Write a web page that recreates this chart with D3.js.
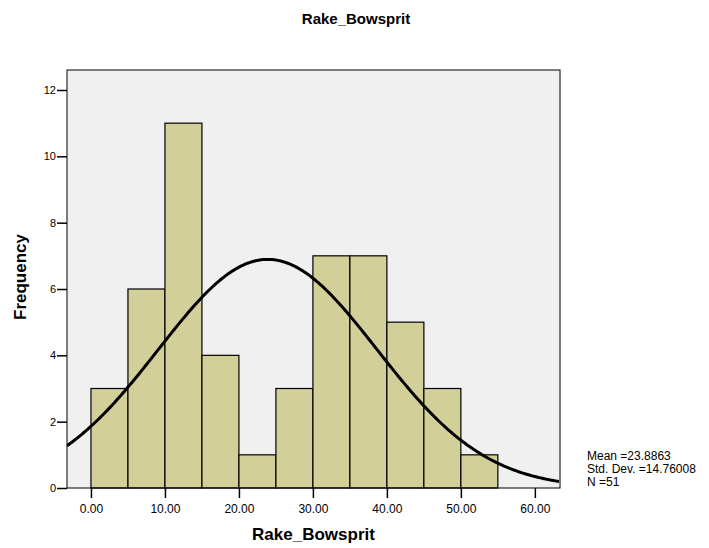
<!DOCTYPE html>
<html><head><meta charset="utf-8">
<script src="https://cdn.jsdelivr.net/npm/d3@7"></script>
<style>body{margin:0;background:#fff}svg{display:block;font-family:"Liberation Sans",Arial,sans-serif}</style>
</head><body>
<svg id="c" width="709" height="548"></svg>
<script>
const binStarts = [0,5,10,15,20,25,30,35,40,45,50];
const binWidth = 5;
const counts = [3,6,11,4,1,3,7,7,5,3,1];
const xTicks = [0,10,20,30,40,50,60];
const yTicks = [0,2,4,6,8,10,12];
const stats = {mean:23.8863, sd:14.76008, n:51};
const legendLines = ["Mean =23.8863","Std. Dev. =14.76008","N =51"];

const svg = d3.select("#c");
const L=67, R=560, T=70, B=488;
const x = d3.scaleLinear().domain([-3.24,63.4]).range([L,R]);
const y = d3.scaleLinear().domain([0,12]).range([B,90]);

svg.append("rect").attr("x",L).attr("y",T).attr("width",R-L).attr("height",B-T).attr("fill","#f0f0f0");

svg.append("g").selectAll("rect").data(binStarts).join("rect")
 .attr("x",d=>x(d)).attr("width",d=>x(d+binWidth)-x(d))
 .attr("y",(d,i)=>y(counts[i])).attr("height",(d,i)=>y(0)-y(counts[i]))
 .attr("fill","#d3cf99").attr("stroke","#000").attr("stroke-width",1.2);

const dens = v => stats.n*binWidth/(stats.sd*Math.sqrt(2*Math.PI))*Math.exp(-0.5*((v-stats.mean)/stats.sd)**2);
const xs = d3.range(x.domain()[0], x.domain()[1]+0.01, 0.25);
svg.append("clipPath").attr("id","cp").append("rect").attr("x",L).attr("y",T).attr("width",R-L).attr("height",B-T);
svg.append("path").datum(xs).attr("clip-path","url(#cp)")
 .attr("d",d3.line().x(d=>x(d)).y(d=>y(dens(d))))
 .attr("fill","none").attr("stroke","#000").attr("stroke-width",3);

svg.append("rect").attr("x",L).attr("y",T).attr("width",R-L).attr("height",B-T).attr("fill","none").attr("stroke","#000").attr("stroke-width",1);

const xa = svg.append("g").attr("transform",`translate(0,${B})`)
 .call(d3.axisBottom(x).tickValues(xTicks).tickFormat(d3.format(".2f")).tickSize(10).tickSizeOuter(0));
xa.select(".domain").remove();
xa.selectAll("line").attr("stroke","#000").attr("stroke-width",1.5);
xa.selectAll("text").attr("font-size",12).attr("fill","#000").attr("y",13).attr("dy","1.0em");

const ya = svg.append("g").attr("transform",`translate(${L},0)`)
 .call(d3.axisLeft(y).tickValues(yTicks).tickSize(10).tickSizeOuter(0));
ya.select(".domain").remove();
ya.selectAll("line").attr("stroke","#000").attr("stroke-width",1.5);
ya.selectAll("text").attr("font-size",11).attr("fill","#000").attr("x",-11);

svg.append("text").attr("x",356).attr("y",23.5).attr("text-anchor","middle").attr("font-size",15).attr("font-weight","bold").text("Rake_Bowsprit");
svg.append("text").attr("x",313.5).attr("y",540).attr("text-anchor","middle").attr("font-size",17).attr("font-weight","bold").text("Rake_Bowsprit");
svg.append("text").attr("transform","translate(26,277) rotate(-90)").attr("text-anchor","middle").attr("font-size",17).attr("font-weight","bold").text("Frequency");

svg.append("g").selectAll("text").data(legendLines).join("text")
 .attr("x",587).attr("y",(d,i)=>460+i*13).attr("font-size",12).text(d=>d);
</script>
</body></html>
